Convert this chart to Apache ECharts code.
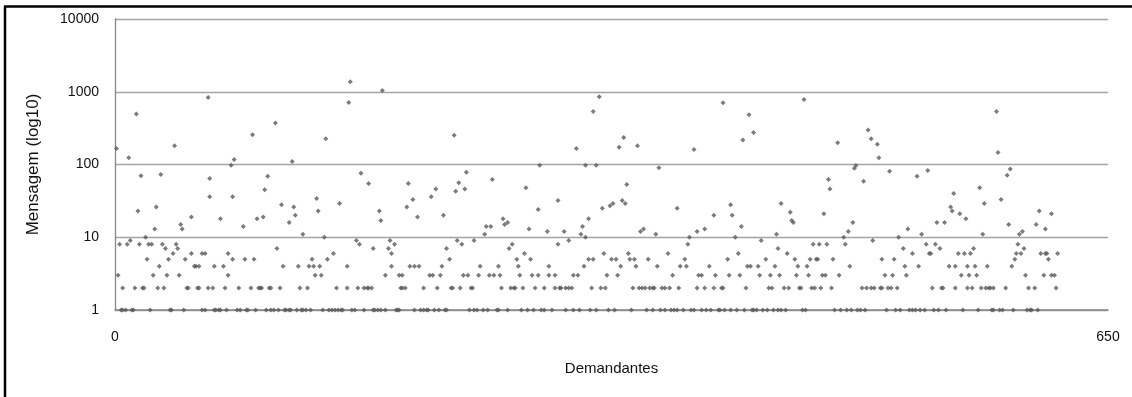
<!DOCTYPE html>
<html>
<head>
<meta charset="utf-8">
<script src="https://cdn.jsdelivr.net/npm/echarts@6/dist/echarts.min.js"></script>
<style>
  html, body { margin: 0; padding: 0; background: #fff; }
  #chart { width: 1132px; height: 397px; }
</style>
</head>
<body>
<div id="chart"></div>
<script>
// Demandantes (x) whose message count equals the given value
const demandantesMsg1 = [4, 5, 7, 11, 12, 23, 36, 37, 45, 57, 59, 65, 66, 68, 69, 73, 80, 82, 86, 87, 92, 99, 102, 104, 107, 111, 112, 114, 115, 119, 122, 123, 125, 128, 136, 140, 142, 144, 146, 148, 149, 155, 157, 163, 169, 170, 172, 174, 177, 184, 185, 186, 196, 200, 202, 204, 205, 209, 212, 216, 217, 232, 235, 237, 241, 244, 250, 251, 257, 266, 270, 274, 279, 281, 286, 295, 300, 304, 311, 315, 323, 327, 338, 348, 352, 357, 360, 364, 366, 368, 372, 377, 379, 384, 387, 390, 395, 396, 399, 403, 407, 412, 417, 418, 420, 424, 427, 431, 434, 436, 439, 450, 452, 471, 475, 479, 482, 486, 488, 491, 505, 511, 514, 520, 522, 524, 527, 530, 536, 539, 544, 555, 565, 574, 575, 579, 581, 588, 597, 599, 600, 604];
const demandantesMsg2 = [5, 13, 18, 19, 28, 32, 47, 48, 54, 55, 61, 64, 72, 81, 89, 94, 95, 96, 101, 102, 108, 121, 126, 145, 152, 159, 163, 165, 166, 168, 187, 188, 190, 202, 211, 220, 221, 226, 233, 234, 253, 259, 261, 262, 267, 275, 281, 288, 291, 292, 295, 297, 299, 312, 318, 321, 339, 343, 345, 347, 350, 352, 353, 358, 360, 363, 369, 381, 386, 392, 397, 398, 413, 428, 430, 438, 441, 448, 449, 456, 458, 462, 469, 489, 492, 495, 497, 501, 502, 506, 508, 512, 535, 541, 542, 550, 558, 561, 567, 570, 572, 573, 575, 583, 598, 602, 616];
const demandantesMsg3 = [2, 25, 34, 42, 74, 131, 135, 177, 186, 188, 206, 208, 213, 228, 231, 238, 245, 248, 252, 265, 273, 277, 284, 288, 300, 303, 322, 329, 365, 382, 384, 393, 402, 409, 422, 429, 435, 446, 454, 463, 465, 474, 504, 509, 518, 554, 559, 564, 596, 608, 613, 615];
const demandantesMsg4 = [29, 52, 53, 55, 65, 71, 110, 120, 127, 130, 134, 152, 181, 193, 196, 199, 214, 239, 251, 264, 284, 307, 331, 341, 355, 370, 374, 389, 414, 416, 421, 432, 447, 453, 481, 517, 526, 546, 550, 558, 563, 571, 587];
const demandantesMsg5 = [21, 35, 46, 77, 85, 91, 129, 139, 219, 263, 272, 310, 313, 325, 328, 337, 340, 349, 373, 401, 426, 445, 455, 459, 460, 470, 502, 510, 589, 611];
const demandantesMsg6 = [38, 50, 57, 59, 74, 143, 181, 268, 320, 336, 362, 408, 440, 522, 533, 534, 552, 556, 560, 590, 593, 606, 609, 610, 617];
const demandantesMsg7 = [33, 41, 106, 169, 179, 217, 258, 434, 516, 540, 562, 595];
const demandantesMsg8 = [3, 8, 16, 22, 24, 31, 40, 160, 183, 227, 260, 290, 375, 457, 461, 466, 478, 531, 537, 591];
const demandantesMsg9 = [10, 158, 180, 224, 235, 297, 423, 496];

// Other points: [demandante, mensagens]
const outrosPontos = [
  [61, 836], [14, 493], [1, 166], [39, 181], [9, 124], [76, 98], [78, 117], [17, 70], [30, 73], [62, 64],
  [62, 36], [77, 36], [15, 23], [27, 26], [50, 19], [69, 18], [26, 13], [43, 15], [44, 13], [20, 10],
  [154, 1373], [153, 713], [105, 371], [90, 256], [138, 226], [116, 110], [100, 69], [98, 45], [132, 34], [109, 28],
  [117, 26], [133, 23], [147, 29], [118, 20], [93, 18], [97, 19], [114, 16], [84, 14], [123, 11], [137, 10],
  [175, 1042], [222, 253], [161, 76], [166, 55], [192, 55], [225, 56], [230, 78], [210, 46], [223, 43], [229, 46],
  [195, 33], [207, 36], [191, 26], [173, 23], [174, 17], [198, 19], [215, 20],
  [313, 536], [302, 166], [278, 98], [308, 98], [247, 62], [269, 48], [290, 32], [277, 24], [254, 18], [310, 18],
  [255, 15], [257, 16], [243, 14], [246, 14], [271, 13], [306, 14], [283, 12], [294, 12], [242, 11], [305, 11], [308, 10],
  [317, 853], [333, 235], [330, 173], [342, 181], [379, 161], [315, 98], [356, 90], [335, 53], [332, 32], [334, 29],
  [319, 25], [324, 27], [326, 29], [368, 25], [392, 20], [344, 12], [346, 13], [386, 13], [381, 12], [354, 11], [376, 10],
  [398, 706], [451, 784], [415, 482], [418, 275], [411, 218], [467, 62], [468, 46], [403, 28], [436, 29], [404, 20],
  [442, 22], [443, 17], [444, 16], [464, 21], [410, 14], [433, 11], [406, 10],
  [493, 297], [495, 226], [473, 199], [499, 190], [500, 124], [484, 89], [485, 97], [507, 81], [532, 83], [525, 69],
  [490, 59], [549, 40], [547, 26], [548, 23], [483, 16], [538, 16], [543, 16], [480, 12], [519, 13], [477, 10], [513, 10], [528, 11],
  [577, 536], [578, 146], [586, 87], [584, 71], [566, 48], [580, 33], [569, 29], [553, 21], [557, 18], [605, 23],
  [613, 21], [585, 15], [603, 15], [609, 13], [594, 12], [592, 11], [568, 11]
];

const xTicks = [0, 650];
const yTicks = [1, 10, 100, 1000, 10000];

const niveis = [
  [1, demandantesMsg1], [2, demandantesMsg2], [3, demandantesMsg3], [4, demandantesMsg4], [5, demandantesMsg5],
  [6, demandantesMsg6], [7, demandantesMsg7], [8, demandantesMsg8], [9, demandantesMsg9]
];
const pontos = [];
niveis.forEach(([v, xs]) => xs.forEach(x => pontos.push([x, v])));
outrosPontos.forEach(p => pontos.push(p));

const chart = echarts.init(document.getElementById('chart'), null, { renderer: 'canvas' });
const fontFam = '"Liberation Sans", Arial, sans-serif';
chart.setOption({
  animation: false,
  backgroundColor: '#ffffff',
  grid: { left: 115, right: 24, top: 19, bottom: 87, containLabel: false },
  xAxis: {
    type: 'value',
    min: xTicks[0],
    max: xTicks[1],
    interval: xTicks[1] - xTicks[0],
    name: 'Demandantes',
    nameLocation: 'middle',
    nameGap: 51,
    nameTextStyle: { fontFamily: fontFam, fontSize: 15, color: '#111' },
    axisLine: { show: true, lineStyle: { color: '#868686', width: 1.5 } },
    axisTick: { show: false },
    splitLine: { show: false },
    axisLabel: { margin: 20, fontFamily: fontFam, fontSize: 14, color: '#111' }
  },
  yAxis: {
    type: 'log',
    logBase: 10,
    min: yTicks[0],
    max: yTicks[yTicks.length - 1],
    name: 'Mensagem (log10)',
    nameLocation: 'middle',
    nameGap: 73,
    nameRotate: 90,
    nameTextStyle: { fontFamily: fontFam, fontSize: 17, color: '#111' },
    axisLine: { show: true, lineStyle: { color: '#868686', width: 1.3 } },
    axisTick: { show: false },
    splitLine: { show: true, lineStyle: { color: '#a3a3a3', width: 1.3 } },
    axisLabel: {
      margin: 16, fontFamily: fontFam, fontSize: 14, color: '#111',
      formatter: v => String(Math.round(v))
    }
  },
  graphic: [
    { type: 'line', shape: { x1: 5, y1: 6, x2: 5, y2: 397 }, style: { stroke: '#000', lineWidth: 2.5 } },
    { type: 'line', shape: { x1: 4, y1: 6.5, x2: 1132, y2: 6.5 }, style: { stroke: '#000', lineWidth: 2.5 } }
  ],
  series: [{
    type: 'scatter',
    data: pontos,
    symbol: 'diamond',
    symbolSize: 5,
    itemStyle: { color: '#5a5a5a' }
  }]
});
</script>
</body>
</html>
